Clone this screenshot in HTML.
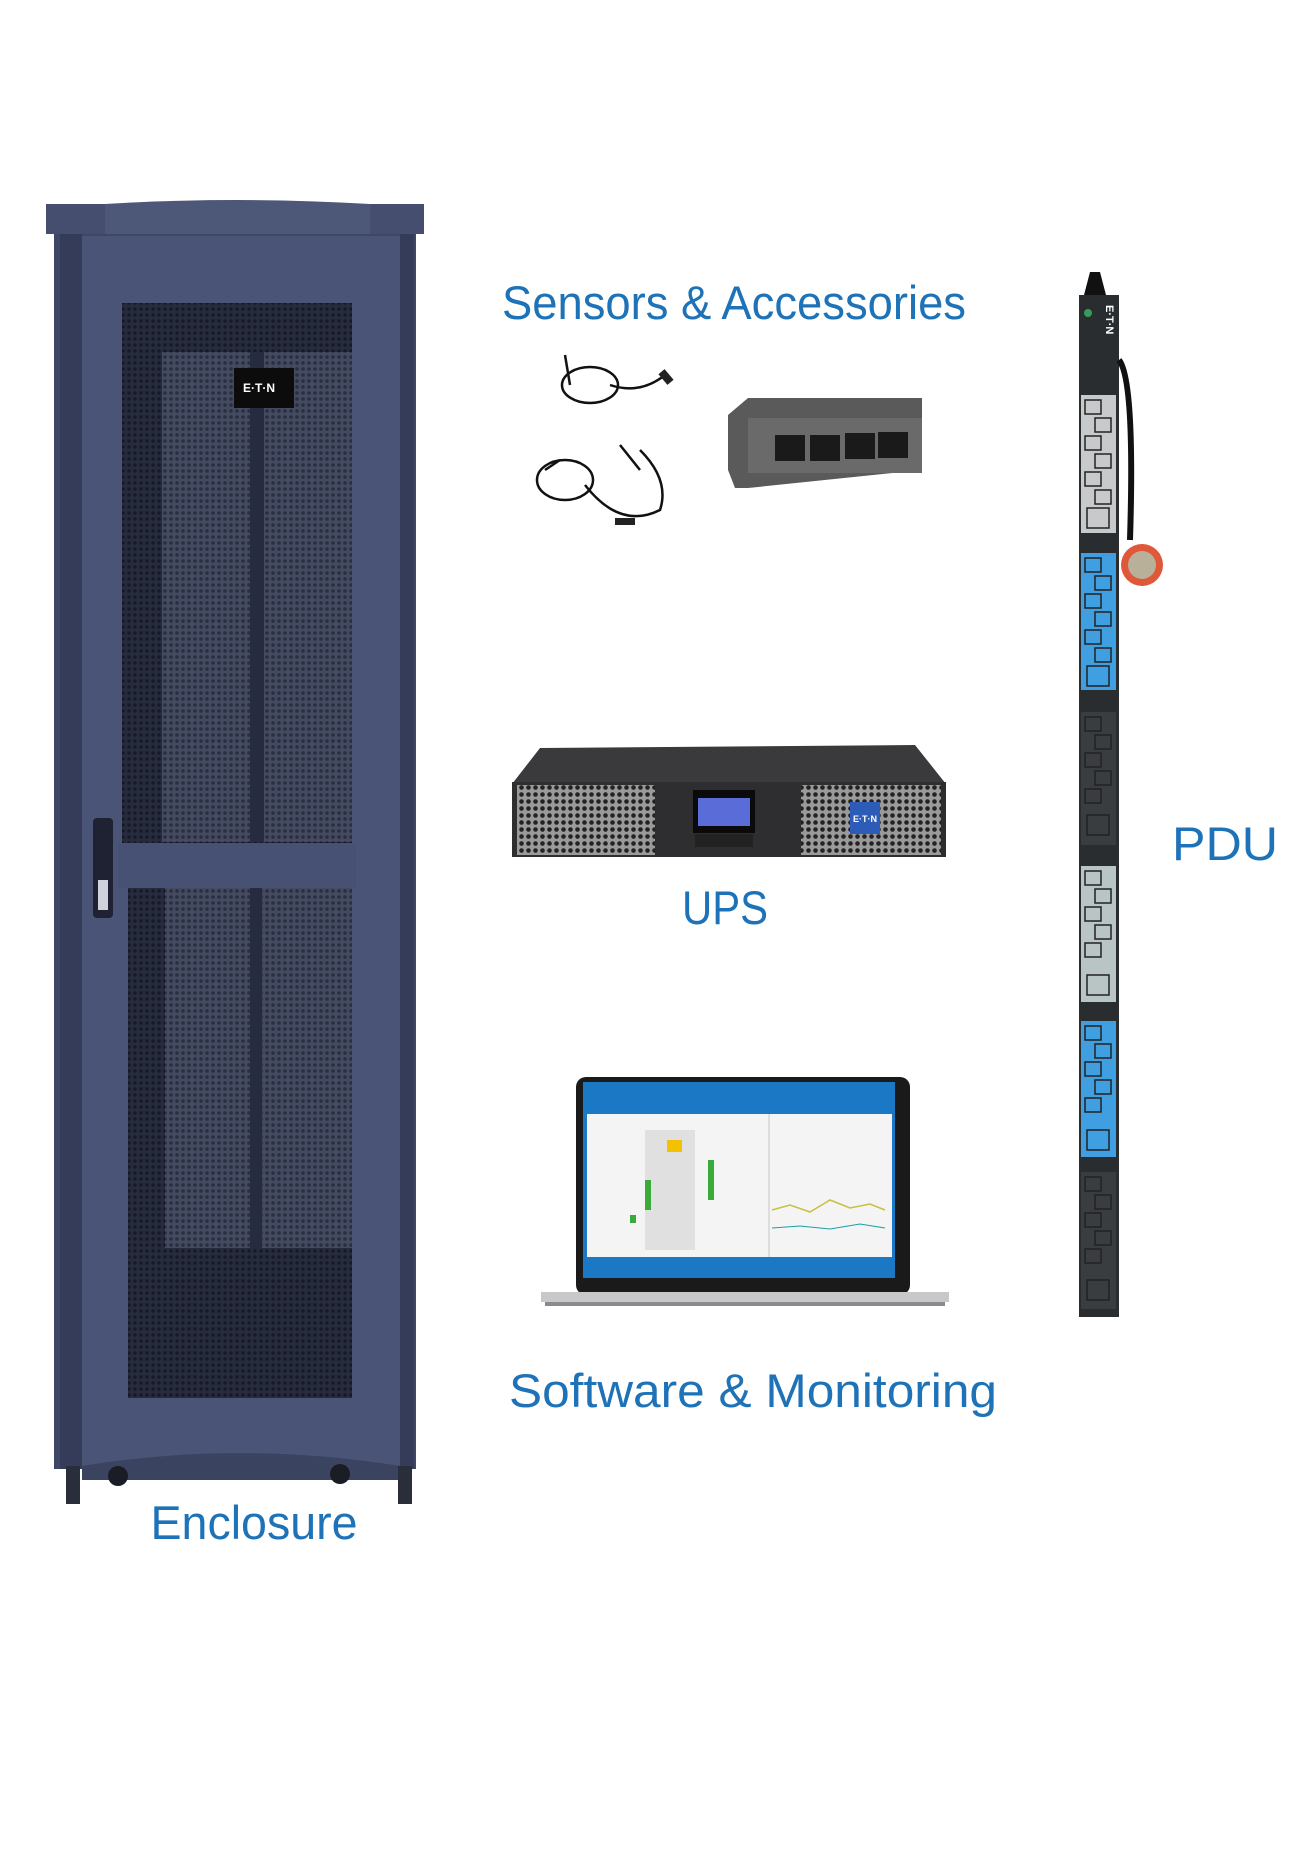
<!DOCTYPE html>
<html><head><meta charset="utf-8"><style>
html,body{margin:0;padding:0;background:#fff;width:1309px;height:1850px;overflow:hidden}
svg{display:block}
.t{font-family:"Liberation Sans",sans-serif;fill:#1d72b8;font-size:47px}
</style></head><body>
<svg width="1309" height="1850" viewBox="0 0 1309 1850" xmlns="http://www.w3.org/2000/svg">
<defs>
<pattern id="perf" width="6" height="6" patternUnits="userSpaceOnUse">
<rect width="6" height="6" fill="#262b3e"/><circle cx="3" cy="3" r="1.8" fill="#171a26"/>
</pattern>
<pattern id="perf2" width="6" height="6" patternUnits="userSpaceOnUse">
<rect width="6" height="6" fill="#444a60"/><circle cx="3" cy="3" r="1.8" fill="#292e40"/>
</pattern>
<pattern id="grill" width="7" height="7" patternUnits="userSpaceOnUse">
<rect width="7" height="7" fill="#9a9a9a"/><circle cx="3.5" cy="3.5" r="2.3" fill="#222"/>
</pattern>
</defs>

<!-- Enclosure -->
<rect x="46" y="204" width="378" height="30" fill="#454e6e"/>
<path d="M105 204 Q235 196 370 204 L370 234 L105 234Z" fill="#4d5777"/>
<rect x="54" y="234" width="362" height="1235" fill="#3e4766"/>
<rect x="60" y="234" width="22" height="1235" fill="#343c59"/>
<rect x="400" y="234" width="14" height="1235" fill="#343c59"/>
<rect x="82" y="236" width="318" height="1230" fill="#4a5477"/>
<rect x="122" y="303" width="230" height="540" fill="url(#perf)"/>
<rect x="162" y="352" width="190" height="490" fill="url(#perf2)"/>
<rect x="250" y="352" width="14" height="490" fill="#262b40"/>
<rect x="234" y="368" width="60" height="40" fill="#0c0c0c"/>
<text x="243" y="392" font-family="Liberation Sans,sans-serif" font-weight="bold" font-size="12" fill="#fff">E·T·N</text>
<rect x="118" y="843" width="238" height="45" fill="#475174"/>
<rect x="128" y="888" width="224" height="510" fill="url(#perf)"/>
<rect x="165" y="888" width="187" height="360" fill="url(#perf2)"/>
<rect x="250" y="888" width="12" height="360" fill="#262b40"/>
<rect x="93" y="818" width="20" height="100" rx="4" fill="#1e2232"/>
<rect x="98" y="880" width="10" height="30" fill="#cfd2da"/>
<path d="M82 1466 Q240 1440 400 1466 L400 1480 L82 1480Z" fill="#3a4360"/>
<rect x="66" y="1466" width="14" height="38" fill="#2a2e3a"/>
<rect x="398" y="1466" width="14" height="38" fill="#2a2e3a"/>
<circle cx="118" cy="1476" r="10" fill="#1a1d26"/>
<circle cx="340" cy="1474" r="10" fill="#1a1d26"/>
<text class="t" x="254" y="1539" text-anchor="middle" textLength="207" lengthAdjust="spacingAndGlyphs">Enclosure</text>

<!-- Sensors -->
<text class="t" x="502" y="319" textLength="464" lengthAdjust="spacingAndGlyphs">Sensors &amp; Accessories</text>
<g fill="none" stroke="#111" stroke-width="2.5">
<ellipse cx="590" cy="385" rx="28" ry="18"/>
<path d="M565 355 L570 385 M610 385 Q640 395 665 375"/>
<ellipse cx="565" cy="480" rx="28" ry="20"/>
<path d="M545 470 L560 460 M585 485 Q620 530 660 510 Q670 480 640 450 M620 445 L640 470"/>
</g>
<rect x="662" y="370" width="8" height="14" fill="#222" transform="rotate(-40 666 377)"/>
<rect x="615" y="518" width="20" height="7" fill="#222"/>
<!-- hub -->
<path d="M728 415 L748 398 L922 398 L922 470 L748 488 L735 488 L728 470Z" fill="#5a5a5a"/>
<rect x="748" y="418" width="174" height="55" fill="#6a6a6a"/>
<g fill="#1a1a1a"><rect x="775" y="435" width="30" height="26"/><rect x="810" y="435" width="30" height="26"/><rect x="845" y="433" width="30" height="26"/><rect x="878" y="432" width="30" height="26"/></g>

<!-- UPS -->
<path d="M512 784 L540 748 L915 745 L946 784 L946 857 L512 857Z" fill="#3a3a3c"/>
<rect x="512" y="782" width="434" height="75" fill="#2e2e30"/>
<rect x="517" y="785" width="138" height="70" fill="url(#grill)"/>
<rect x="801" y="785" width="140" height="70" fill="url(#grill)"/>
<rect x="693" y="790" width="62" height="43" fill="#0a0a0a"/>
<rect x="698" y="798" width="52" height="28" fill="#5a6cd8"/>
<rect x="695" y="834" width="58" height="13" fill="#222"/>
<rect x="850" y="802" width="30" height="32" fill="#2d5bb8"/>
<text x="865" y="822" text-anchor="middle" font-family="Liberation Sans,sans-serif" font-weight="bold" font-size="9" fill="#fff">E·T·N</text>
<text class="t" x="725" y="924" text-anchor="middle" textLength="86" lengthAdjust="spacingAndGlyphs">UPS</text>

<!-- Laptop -->
<rect x="576" y="1077" width="334" height="218" rx="10" fill="#1a1a1a"/>
<rect x="583" y="1082" width="312" height="196" fill="#1b78c4"/>
<rect x="587" y="1114" width="305" height="143" fill="#f4f4f4"/>
<rect x="768" y="1114" width="2" height="143" fill="#ddd"/>
<rect x="645" y="1130" width="50" height="120" fill="#e0e0e0"/>
<rect x="667" y="1140" width="15" height="12" fill="#f2c200"/>
<g fill="#3aaa3a"><rect x="645" y="1180" width="6" height="30"/><rect x="708" y="1160" width="6" height="40"/><rect x="630" y="1215" width="6" height="8"/></g>
<polyline points="772,1210 790,1205 810,1212 830,1200 850,1208 870,1204 885,1210" fill="none" stroke="#c8c040" stroke-width="1.5"/>
<polyline points="772,1228 800,1226 830,1229 860,1224 885,1228" fill="none" stroke="#1aa0a0" stroke-width="1"/>
<rect x="541" y="1292" width="408" height="10" fill="#c8c8ca"/>
<rect x="545" y="1302" width="400" height="4" fill="#8a8a8c"/>
<text class="t" x="509" y="1407" textLength="488" lengthAdjust="spacingAndGlyphs">Software &amp; Monitoring</text>

<!-- PDU -->
<path d="M1090 272 L1100 272 L1106 295 L1084 295Z" fill="#111"/>
<rect x="1079" y="295" width="40" height="1022" fill="#2a2d30"/>
<text x="1106" y="305" transform="rotate(90 1106 305)" font-family="Liberation Sans,sans-serif" font-weight="bold" font-size="11" fill="#fff">E·T·N</text>
<circle cx="1088" cy="313" r="4" fill="#3a9a5a"/>
<path d="M1119 360 Q1135 380 1130 540" fill="none" stroke="#111" stroke-width="6"/>
<g>
<rect x="1081" y="395" width="35" height="138" fill="#c7c9cb"/>
<rect x="1081" y="553" width="35" height="137" fill="#3f9fe0"/>
<rect x="1081" y="712" width="35" height="133" fill="#3a3d40"/>
<rect x="1081" y="866" width="35" height="136" fill="#b9c5c5"/>
<rect x="1081" y="1021" width="35" height="136" fill="#3f9fe0"/>
<rect x="1081" y="1172" width="35" height="137" fill="#3a3d40"/>
</g>
<g fill="none" stroke="#222" stroke-width="1.5">
<rect x="1085" y="400" width="16" height="14"/><rect x="1095" y="418" width="16" height="14"/><rect x="1085" y="436" width="16" height="14"/><rect x="1095" y="454" width="16" height="14"/><rect x="1085" y="472" width="16" height="14"/><rect x="1095" y="490" width="16" height="14"/><rect x="1087" y="508" width="22" height="20"/>
<rect x="1085" y="558" width="16" height="14"/><rect x="1095" y="576" width="16" height="14"/><rect x="1085" y="594" width="16" height="14"/><rect x="1095" y="612" width="16" height="14"/><rect x="1085" y="630" width="16" height="14"/><rect x="1095" y="648" width="16" height="14"/><rect x="1087" y="666" width="22" height="20"/>
<rect x="1085" y="717" width="16" height="14"/><rect x="1095" y="735" width="16" height="14"/><rect x="1085" y="753" width="16" height="14"/><rect x="1095" y="771" width="16" height="14"/><rect x="1085" y="789" width="16" height="14"/><rect x="1087" y="815" width="22" height="20"/>
<rect x="1085" y="871" width="16" height="14"/><rect x="1095" y="889" width="16" height="14"/><rect x="1085" y="907" width="16" height="14"/><rect x="1095" y="925" width="16" height="14"/><rect x="1085" y="943" width="16" height="14"/><rect x="1087" y="975" width="22" height="20"/>
<rect x="1085" y="1026" width="16" height="14"/><rect x="1095" y="1044" width="16" height="14"/><rect x="1085" y="1062" width="16" height="14"/><rect x="1095" y="1080" width="16" height="14"/><rect x="1085" y="1098" width="16" height="14"/><rect x="1087" y="1130" width="22" height="20"/>
<rect x="1085" y="1177" width="16" height="14"/><rect x="1095" y="1195" width="16" height="14"/><rect x="1085" y="1213" width="16" height="14"/><rect x="1095" y="1231" width="16" height="14"/><rect x="1085" y="1249" width="16" height="14"/><rect x="1087" y="1280" width="22" height="20"/>
</g>
<circle cx="1142" cy="565" r="21" fill="#e0583a"/>
<circle cx="1142" cy="565" r="14" fill="#b9b09a"/>
<text class="t" x="1172" y="860" textLength="106" lengthAdjust="spacingAndGlyphs">PDU</text>
</svg>
</body></html>
